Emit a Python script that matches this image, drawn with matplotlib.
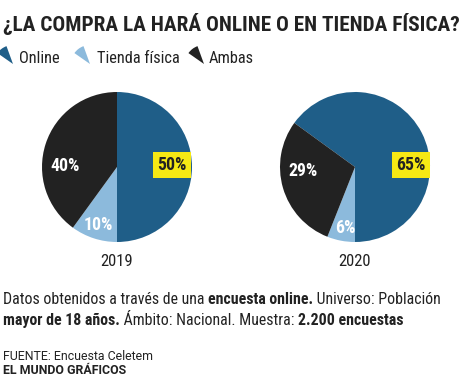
import matplotlib
matplotlib.use('Agg')
import matplotlib.pyplot as plt
from matplotlib import font_manager as fm
from matplotlib.patches import Wedge

names = {f.name for f in fm.fontManager.ttflist}
COND = next((n for n in ['Roboto Condensed', 'Liberation Sans Narrow', 'Roboto'] if n in names), 'DejaVu Sans')
REG = 'Roboto' if 'Roboto' in names else 'DejaVu Sans'

# ---- data ----
categories = ['Online', 'Tienda física', 'Ambas']
years = ['2019', '2020']
values_2019 = [50, 10, 40]
values_2020 = [65, 6, 29]
colors = ['#1f5e88', '#8cbadc', '#222222']
title = '¿LA COMPRA LA HARÁ ONLINE O EN TIENDA FÍSICA?'

W, H = 474, 387
fig = plt.figure(figsize=(W / 100, H / 100), dpi=100)
ax = fig.add_axes([0, 0, 1, 1])
TXT = '#222222'
YEL = '#f6e914'

R = 75
centers = [(117, H - 167), (355, H - 167)]
label_offsets = [[(55, 2), (-19, -58), (-52, 1)],
                 [(56, 2), (-10, -61), (-52, -4)]]

for vals, c, year, offs in zip([values_2019, values_2020], centers, years, label_offsets):
    # the "Online" slice always ends at 6 o'clock
    start = -90 + 360 * vals[0] / sum(vals)
    ax.pie(vals, colors=colors, startangle=start, counterclock=False,
           center=c, radius=R, wedgeprops=dict(linewidth=0))
    for i, (v, (dx, dy)) in enumerate(zip(vals, offs)):
        if i == 0:
            ax.text(c[0] + dx, c[1] + dy, f'{v}%', ha='center', va='center',
                    fontsize=12.8, family=COND, weight='bold', color=TXT,
                    bbox=dict(boxstyle='square,pad=0.25', fc=YEL, ec='none'))
        else:
            ax.text(c[0] + dx, c[1] + dy, f'{v}%', ha='center', va='center',
                    fontsize=12.8, family=COND, weight='bold', color='white')
    ax.text(c[0], H - 266, year, ha='center', va='baseline', fontsize=12,
            family=COND, color=TXT)

ax.set_xlim(0, W)
ax.set_ylim(0, H)
ax.set_aspect('equal')
ax.axis('off')

# title
ax.text(3, H - 31, title, ha='left', va='baseline', fontsize=15.3,
        family=COND, weight='bold', color=TXT)

# legend
icon_x = [13, 90, 204]
text_x = [19, 97, 209]
for cat, col, ix, tx in zip(categories, colors, icon_x, text_x):
    ax.add_patch(Wedge((ix, H - 64), 19, 110, 145, fc=col, ec='none'))
    ax.text(tx, H - 63, cat, ha='left', va='baseline', fontsize=11.8,
            family=COND, color=TXT)

renderer = fig.canvas.get_renderer()


def rich(x, y, parts, size, family):
    for s, bold in parts:
        t = ax.text(x, y, s, ha='left', va='baseline', fontsize=size,
                    family=family, weight='bold' if bold else 'normal', color=TXT)
        x += t.get_window_extent(renderer).width


rich(3, H - 304, [('Datos obtenidos a través de una ', False),
                  ('encuesta online.', True),
                  (' Universo: Población', False)], 11.4, COND)
rich(3, H - 325, [('mayor de 18 años.', True),
                  (' Ámbito: Nacional. Muestra: ', False),
                  ('2.200 encuestas', True)], 11.4, COND)

ax.text(3, H - 360, 'FUENTE: Encuesta Celetem', ha='left', va='baseline',
        fontsize=8.9, family=REG, color=TXT)
ax.text(3, H - 374, 'EL MUNDO GRÁFICOS', ha='left', va='baseline',
        fontsize=8.9, family=REG, weight='bold', color=TXT)

fig.savefig('out.png', dpi=100)
